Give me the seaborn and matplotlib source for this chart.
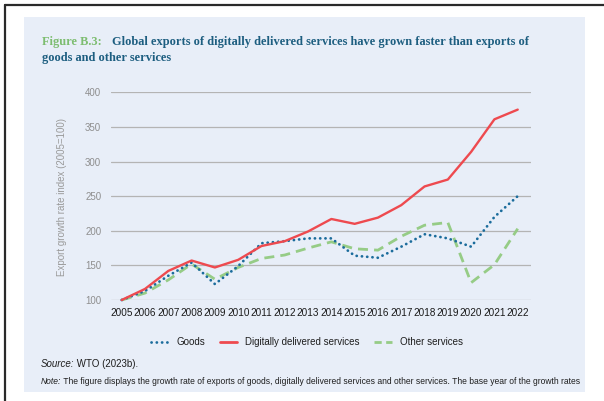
import matplotlib
matplotlib.use("Agg")
import matplotlib.pyplot as plt
from matplotlib.lines import Line2D
from matplotlib.patches import Rectangle
from matplotlib import font_manager
import seaborn as sns
import pandas as pd

# ---------------- data ----------------
years = list(range(2005, 2023))
goods = [100, 113, 135, 154, 123, 149, 182, 185, 189, 189, 164, 161, 177, 195, 189, 177, 220, 250]
digital = [100, 116, 142, 157, 147, 158, 178, 185, 199, 217, 210, 219, 237, 264, 274, 314, 361, 375]
other = [100, 110, 129, 152, 130, 147, 160, 165, 175, 184, 174, 172, 192, 208, 212, 125, 151, 203]
y_ticks = [100, 150, 200, 250, 300, 350, 400]
series_names = ["Goods", "Digitally delivered services", "Other services"]

W, H = 604, 401

sns.set_style("white")

def has_font(name):
    try:
        font_manager.findfont(name, fallback_to_default=False)
        return True
    except Exception:
        return False

SANS = "Liberation Sans Narrow" if has_font("Liberation Sans Narrow") else "Liberation Sans"
SERIF = "Liberation Serif"
plt.rcParams["font.family"] = [SANS, "DejaVu Sans"]

fig = plt.figure(figsize=(W / 100, H / 100), dpi=100)
fig.patch.set_facecolor("white")

def fx(x):
    return x / W

def fy(y):
    return 1 - y / H

# panel + borders
panel = Rectangle((fx(24), fy(392)), fx(585) - fx(24), fy(17) - fy(392),
                  transform=fig.transFigure, facecolor="#E8EEF8", edgecolor="none", zorder=-10)
fig.add_artist(panel)
fig.add_artist(Line2D([fx(5), fx(5)], [fy(5), fy(401)], transform=fig.transFigure,
                      color="#2a2a2a", lw=1.6, zorder=-5))
fig.add_artist(Line2D([fx(5), fx(604)], [fy(5), fy(5)], transform=fig.transFigure,
                      color="#2a2a2a", lw=1.6, zorder=-5))

# ---------------- axes ----------------
ax = fig.add_axes([fx(111), fy(300), fx(531) - fx(111), fy(92.3) - fy(300)])
ax.set_facecolor("none")
ax.set_zorder(1)

df = pd.DataFrame({"year": years, "Goods": goods,
                   "Digitally delivered services": digital, "Other services": other})

blue = "#1B6C9C"
red = "#EE4A4F"
green = "#96CC86"
DOT = (0, (0.05, 1.85))

sns.lineplot(data=df, x="year", y="Other services", ax=ax, color=green, lw=2.0,
             linestyle=(0, (3.6, 2.2)), clip_on=False, zorder=3)
sns.lineplot(data=df, x="year", y="Goods", ax=ax, color=blue, lw=2.0,
             linestyle=DOT, dash_capstyle="round", clip_on=False, zorder=4)
sns.lineplot(data=df, x="year", y="Digitally delivered services", ax=ax, color=red,
             lw=1.7, clip_on=False, zorder=5)

ax.set_xlim(2004.54, 2022.57)
ax.set_ylim(100, 400)
ax.set_yticks(y_ticks)
ax.set_xticks(years)
ax.set_xticklabels([str(y) for y in years])
ax.grid(axis="y", color="#B4B4B4", lw=0.9)
ax.grid(axis="x", visible=False)
ax.set_axisbelow(True)
for s in ax.spines.values():
    s.set_visible(False)
ax.tick_params(axis="both", length=0)
ax.tick_params(axis="x", pad=6, labelsize=7.2, labelcolor="#1a1a1a")
ax.tick_params(axis="y", pad=7, labelsize=7, labelcolor="#8E8E8E")
ax.set_xlabel("")
ax.set_ylabel("")

fig.text(fx(62), fy(197), "Export growth rate index (2005=100)", rotation=90,
         ha="center", va="center", fontsize=7, color="#9A9A9A")

# ---------------- title ----------------
t1 = fig.text(fx(42), fy(42), "Figure B.3:", fontsize=8.6, color="#7DBD70",
              family=SERIF, fontweight="bold", va="center", ha="left")
t2 = fig.text(fx(112), fy(42),
              "Global exports of digitally delivered services have grown faster than exports of",
              fontsize=8.6, color="#1D5E80", family=SERIF, fontweight="bold",
              va="center", ha="left")
t3 = fig.text(fx(42), fy(57.5), "goods and other services", fontsize=8.6, color="#1D5E80",
              family=SERIF, fontweight="bold", va="center", ha="left")

# ---------------- legend ----------------
handles = [
    Line2D([0], [0], color=blue, lw=2.0, linestyle=DOT, dash_capstyle="round"),
    Line2D([0], [0], color=red, lw=2.0),
    Line2D([0], [0], color=green, lw=2.0, linestyle=(0, (2.6, 1.6))),
]
fig.legend(handles, series_names, loc="center", bbox_to_anchor=(fx(307), fy(342)),
           ncol=3, frameon=False, fontsize=7, handlelength=1.8, handletextpad=0.8,
           columnspacing=1.5, labelcolor="#1e1e1e")

# ---------------- source / note ----------------
s1 = fig.text(fx(41), fy(364), "Source:", fontsize=7, style="italic", color="#1e1e1e",
              va="center", ha="left")
s2 = fig.text(fx(41), fy(364), " WTO (2023b).", fontsize=7, color="#1e1e1e",
              va="center", ha="left")
n1 = fig.text(fx(41), fy(382), "Note:", fontsize=7, style="italic", color="#1e1e1e",
              va="center", ha="left")
n2 = fig.text(fx(41), fy(382),
              " The figure displays the growth rate of exports of goods, digitally delivered "
              "services and other services. The base year of the growth rates",
              fontsize=7, color="#1e1e1e", va="center", ha="left")
n3 = fig.text(fx(41), fy(397), "is 2005 (2005=100).", fontsize=7, color="#1e1e1e",
              va="center", ha="left")
n3.set_clip_path(panel)

# fit widths of long texts to the reference
fig.canvas.draw()
r = fig.canvas.get_renderer()

w2 = t2.get_window_extent(r).width
fs_t = 8.6 * (527 - 112) / w2
for a in (t1, t2, t3):
    a.set_fontsize(fs_t)

wn = n1.get_window_extent(r).width + n2.get_window_extent(r).width
fs_n = 7 * (578 - 41) / wn
for a in (n1, n2, n3):
    a.set_fontsize(fs_n)

fig.canvas.draw()
# place the upright parts right after their italic labels
inv = fig.transFigure.inverted()
e1 = s1.get_window_extent(r)
s2.set_x(inv.transform((e1.x1, 0))[0])
e2 = n1.get_window_extent(r)
n2.set_x(inv.transform((e2.x1, 0))[0])

fig.savefig("out.png", dpi=100, facecolor="white")
